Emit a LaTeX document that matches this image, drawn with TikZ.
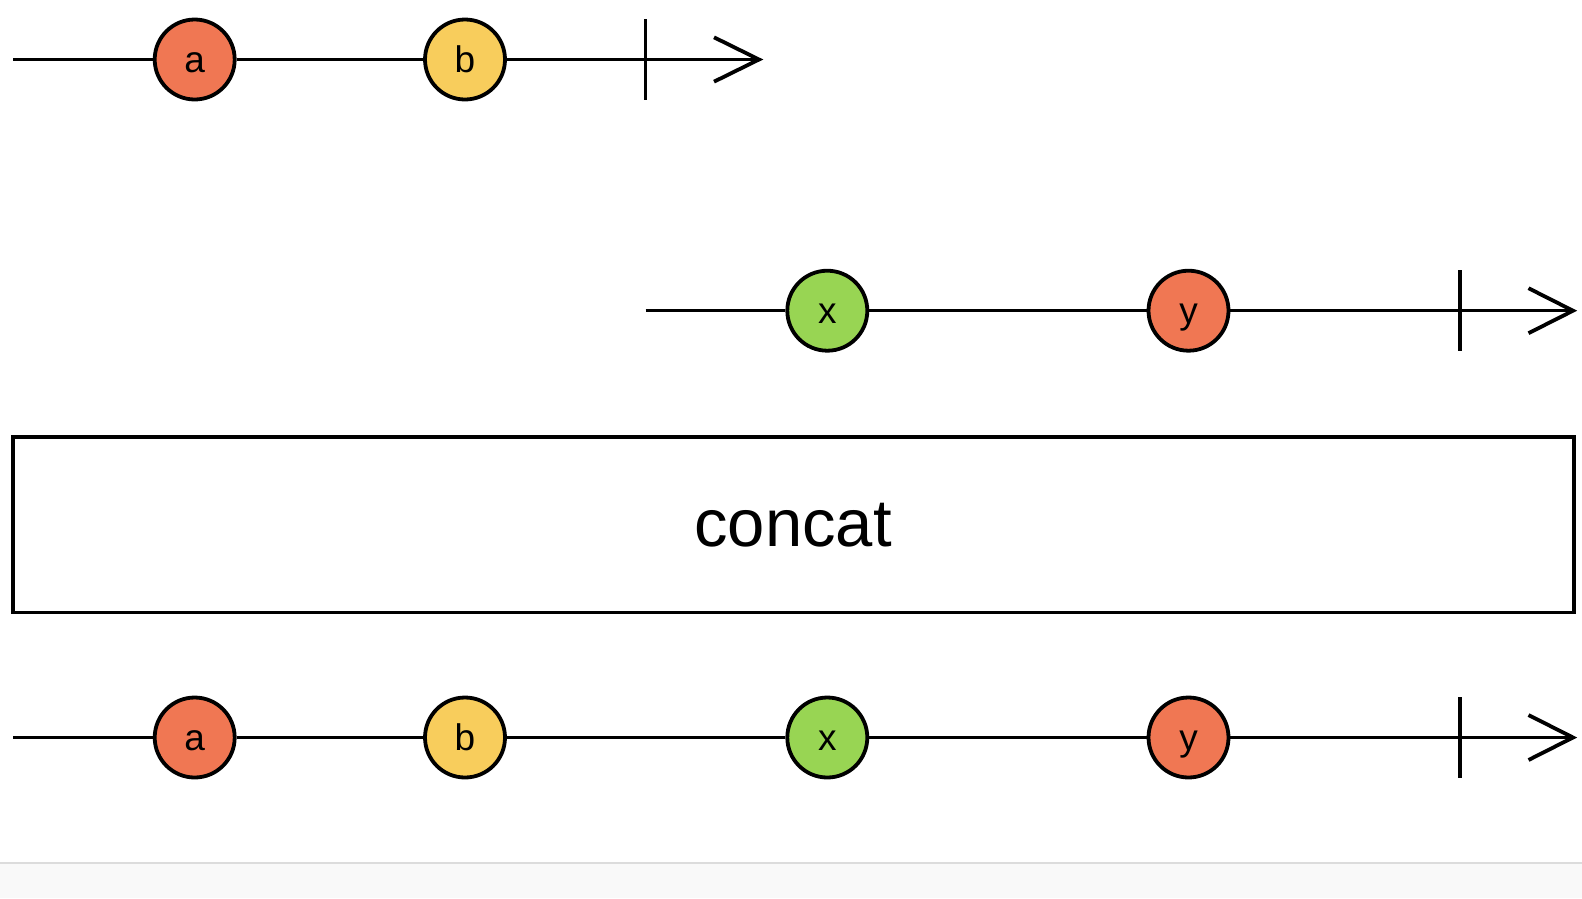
\documentclass[tikz,border=0pt]{standalone}
\usepackage{fontspec}
\setmainfont{Liberation Sans}
\definecolor{cred}{HTML}{F07753}
\definecolor{cyel}{HTML}{F8CD5C}
\definecolor{cgrn}{HTML}{98D553}
\definecolor{stripline}{HTML}{DCDCDC}
\definecolor{stripfill}{HTML}{F9F9F9}
\begin{document}
\begin{tikzpicture}[x=1pt,y=-1pt,
  marble/.style={circle,draw=black,line width=3.8pt,minimum size=80pt,inner sep=0pt,
    text height=26pt,text depth=0pt,font=\fontsize{37}{37}\selectfont},
  tline/.style={line width=3.4pt,draw=black},
  tickmark/.style={line width=3.4pt,draw=black},
  chev/.style={line width=3.8pt,draw=black,line join=miter}]
\useasboundingbox (0,0) rectangle (1582,898);
\fill[white] (0,0) rectangle (1582,898);
\fill[stripfill] (0,863) rectangle (1582,898);
\draw[stripline,line width=2pt] (0,863) -- (1582,863);

% row 1
\coordinate (s1) at (13,59.5);
\coordinate (e1) at (759,59.5);
\coordinate (t1a) at (645.7,19);
\coordinate (t1b) at (645.7,100);
\coordinate (h1a) at (714,37.3);
\coordinate (h1b) at (714,81.7);
\node[marble,fill=cred] (a1) at (194.7,59.5) {a};
\node[marble,fill=cyel] (b1) at (465,59.5) {b};
\draw[tline] (s1) -- (a1);
\draw[tline] (a1) -- (b1);
\draw[tline] (b1) -- (e1);
\draw[tickmark] (t1a) -- (t1b);
\draw[chev] (h1a) -- (e1) -- (h1b);

% row 2
\coordinate (s2) at (645.7,310.7);
\coordinate (e2) at (1573,310.7);
\coordinate (t2a) at (1460,270.4);
\coordinate (t2b) at (1460,351.1);
\coordinate (h2a) at (1528.5,288.2);
\coordinate (h2b) at (1528.5,333.2);
\node[marble,fill=cgrn] (x2) at (827.3,310.7) {x};
\node[marble,fill=cred] (y2) at (1188.5,310.7) {y};
\draw[tline] (s2) -- (x2);
\draw[tline] (x2) -- (y2);
\draw[tline] (y2) -- (e2);
\draw[tickmark] (t2a) -- (t2b);
\draw[chev] (h2a) -- (e2) -- (h2b);

% operator box
\node[draw=black,line width=3.4pt,minimum width=1561pt,minimum height=175.5pt,inner sep=0pt] (op) at (793.5,524.6) {};
\node[font=\fontsize{67}{67}\selectfont,inner sep=0pt] (optext) at (793,525) {concat};

% row 3
\coordinate (s3) at (13,737.5);
\coordinate (e3) at (1573,737.5);
\coordinate (t3a) at (1460,697);
\coordinate (t3b) at (1460,778);
\coordinate (h3a) at (1528.5,715);
\coordinate (h3b) at (1528.5,760);
\node[marble,fill=cred] (a3) at (194.7,737.5) {a};
\node[marble,fill=cyel] (b3) at (465,737.5) {b};
\node[marble,fill=cgrn] (x3) at (827.3,737.5) {x};
\node[marble,fill=cred] (y3) at (1188.5,737.5) {y};
\draw[tline] (s3) -- (a3);
\draw[tline] (a3) -- (b3);
\draw[tline] (b3) -- (x3);
\draw[tline] (x3) -- (y3);
\draw[tline] (y3) -- (e3);
\draw[tickmark] (t3a) -- (t3b);
\draw[chev] (h3a) -- (e3) -- (h3b);
\end{tikzpicture}
\end{document}
